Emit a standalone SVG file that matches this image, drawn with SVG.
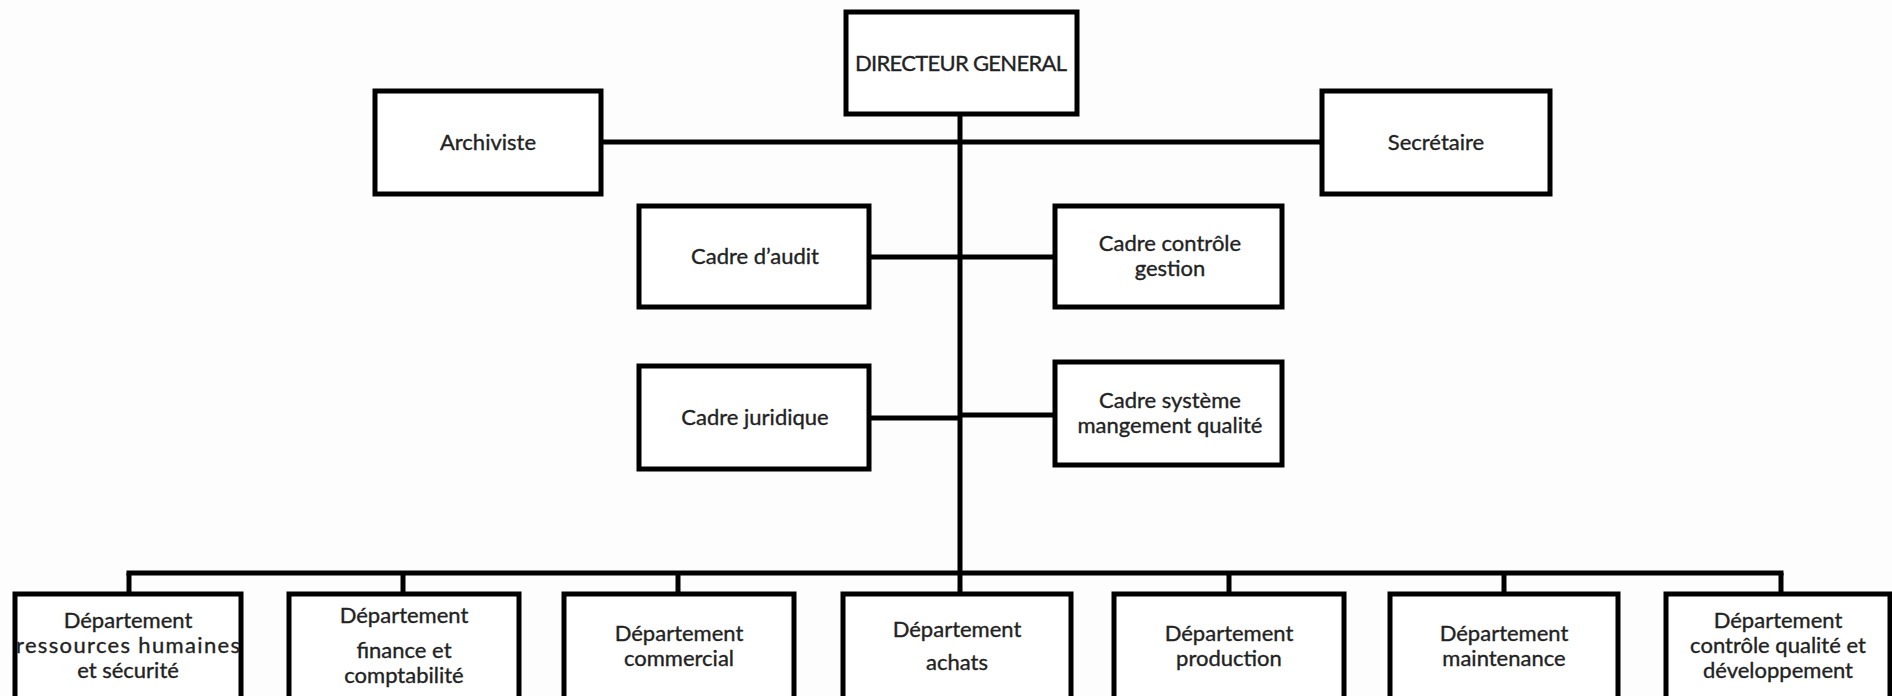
<svg xmlns="http://www.w3.org/2000/svg" width="1892" height="696" viewBox="0 0 1892 696">
<style>
.box{fill:#fff;stroke:#000;stroke-width:5}
.ln{stroke:#000;stroke-width:5;fill:none}
text{font-family:Lato,"Liberation Sans",sans-serif;font-size:22px;fill:#222;stroke:#222;stroke-width:0.35;text-anchor:middle}
</style>
<rect width="1892" height="696" fill="#fdfdfd"/>
<g id="connectors">
<line class="ln" x1="960" y1="114" x2="960" y2="573"/>
<line class="ln" x1="601" y1="142" x2="1322" y2="142"/>
<line class="ln" x1="869" y1="257" x2="1055" y2="257"/>
<line class="ln" x1="869" y1="418" x2="960" y2="418"/>
<line class="ln" x1="960" y1="415" x2="1055" y2="415"/>
<line class="ln" x1="126.5" y1="573" x2="1783.5" y2="573"/>
<line class="ln" x1="129" y1="573" x2="129" y2="594"/>
<line class="ln" x1="403" y1="573" x2="403" y2="594"/>
<line class="ln" x1="678" y1="573" x2="678" y2="594"/>
<line class="ln" x1="960" y1="573" x2="960" y2="594"/>
<line class="ln" x1="1229" y1="573" x2="1229" y2="594"/>
<line class="ln" x1="1504" y1="573" x2="1504" y2="594"/>
<line class="ln" x1="1781" y1="573" x2="1781" y2="594"/>
</g>
<g id="dg"><rect class="box" x="846" y="12" width="231" height="102"/><text x="961" y="71" textLength="212">DIRECTEUR GENERAL</text></g>
<g id="archiviste"><rect class="box" x="375" y="91" width="226" height="103"/><text x="488" y="150">Archiviste</text></g>
<g id="secretaire"><rect class="box" x="1322" y="91" width="228" height="103"/><text x="1436" y="150">Secrétaire</text></g>
<g id="audit"><rect class="box" x="639" y="206" width="230" height="101"/><text x="755" y="264">Cadre d’audit</text></g>
<g id="controle"><rect class="box" x="1055" y="206" width="227" height="101"/><text x="1170" y="251">Cadre contrôle</text><text x="1170" y="276">gestion</text></g>
<g id="juridique"><rect class="box" x="639" y="366" width="230" height="103"/><text x="755" y="425">Cadre juridique</text></g>
<g id="systeme"><rect class="box" x="1055" y="362" width="227" height="103"/><text x="1170" y="408">Cadre système</text><text x="1170" y="433">mangement qualité</text></g>
<g id="dep-rh"><rect class="box" x="15" y="594" width="226" height="120"/><text x="128" y="628">Département</text><text x="128" y="653" textLength="224">ressources humaines</text><text x="128" y="678">et sécurité</text></g>
<g id="dep-finance"><rect class="box" x="289" y="594" width="230" height="120"/><text x="404" y="623">Département</text><text x="404" y="658">finance et</text><text x="404" y="683">comptabilité</text></g>
<g id="dep-commercial"><rect class="box" x="564" y="594" width="230" height="120"/><text x="679" y="641">Département</text><text x="679" y="666">commercial</text></g>
<g id="dep-achats"><rect class="box" x="843" y="594" width="228" height="120"/><text x="957" y="637">Département</text><text x="957" y="670">achats</text></g>
<g id="dep-production"><rect class="box" x="1114" y="594" width="230" height="120"/><text x="1229" y="641">Département</text><text x="1229" y="666">production</text></g>
<g id="dep-maintenance"><rect class="box" x="1390" y="594" width="228" height="120"/><text x="1504" y="641">Département</text><text x="1504" y="666">maintenance</text></g>
<g id="dep-qualite"><rect class="box" x="1666" y="594" width="224" height="120"/><text x="1778" y="628">Département</text><text x="1778" y="653">contrôle qualité et</text><text x="1778" y="678">développement</text></g>
</svg>
